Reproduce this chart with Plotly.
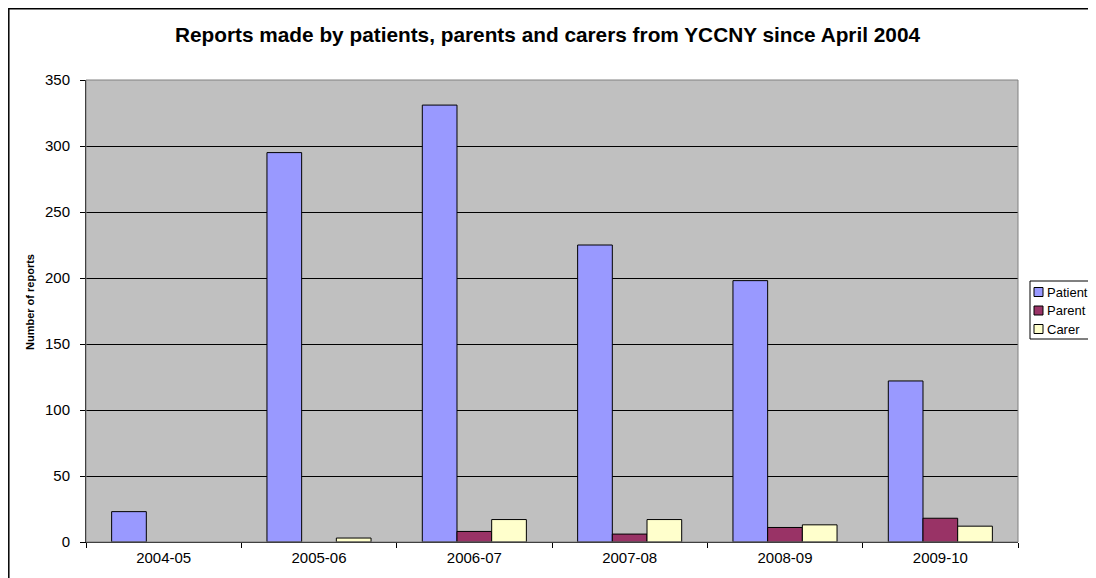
import plotly.graph_objects as go

# data
years = ["2004-05", "2005-06", "2006-07", "2007-08", "2008-09", "2009-10"]
series = ["Patient", "Parent", "Carer"]
patient = [23, 295, 331, 225, 198, 122]
parent = [0, 0, 8, 6, 11, 18]
carer = [0, 3, 17, 17, 13, 12]
colors = ["#9999FF", "#993366", "#FFFFCC"]

# page body has an 8px margin, so the figure sits 8px in from the window corner
W, H = 1088, 570
L, R, T, B = 78, 78, 72, 36
pw, ph = W - L - R, H - T - B


def px(x):
    return (x - L) / pw


def py(y):
    return 1 - (y - T) / ph


fig = go.Figure()
for name, vals, col in zip(series, [patient, parent, carer], colors):
    # no outline on empty bars, as in the original
    fig.add_trace(go.Bar(x=years, y=vals, name=name, marker_color=col,
                         marker_line=dict(color="black", width=[1 if v else 0 for v in vals])))

fig.update_layout(
    width=W, height=H,
    margin=dict(l=L, r=R, t=T, b=B, autoexpand=False),
    paper_bgcolor="white", plot_bgcolor="#C0C0C0",
    font=dict(family="Liberation Sans, Arial", size=15, color="black"),
    barmode="group", bargap=0.33, bargroupgap=0,
    title=dict(text="<b>Reports made by patients, parents and carers from YCCNY since April 2004</b>",
               x=px(539.5), xref="paper", xanchor="center", y=1 - 27 / H, yanchor="middle",
               font=dict(size=20.8, color="black")),
    showlegend=False,
)
fig.update_yaxes(range=[0, 350], dtick=50, showgrid=True, gridcolor="black", gridwidth=1,
                 showline=True, linecolor="black", ticks="outside", ticklen=5,
                 tickcolor="black", zeroline=False, ticklabelstandoff=7)
fig.update_xaxes(type="category", showline=True, linecolor="black", ticks="outside", ticklen=5,
                 tickcolor="black", tickson="boundaries", showgrid=False, ticklabelstandoff=2)

# y axis title
fig.add_annotation(text="<b>Number of reports</b>", textangle=-90, showarrow=False,
                   xref="paper", yref="paper", x=px(22), y=py(294),
                   xanchor="center", yanchor="middle", font=dict(size=11))

# plot-area border (grey top/right) and outer chart frame
fig.add_shape(type="rect", xref="paper", yref="paper", x0=0, x1=1, y0=0, y1=1,
              line=dict(color="#808080", width=1), layer="above")
fig.add_shape(type="rect", xref="paper", yref="paper",
              x0=px(0.8), x1=px(W + 10), y0=py(H + 10), y1=py(0.8),
              line=dict(color="black", width=1.5))

# legend box drawn by hand so it stays as compact as the original
fig.add_shape(type="rect", xref="paper", yref="paper",
              x0=px(1022), x1=px(W + 10), y0=py(331), y1=py(273),
              line=dict(color="black", width=1), fillcolor="white")
for i, (name, col) in enumerate(zip(series, colors)):
    yc = 284 + i * 18.5
    fig.add_shape(type="rect", xref="paper", yref="paper",
                  x0=px(1026), x1=px(1035), y0=py(yc + 4.5), y1=py(yc - 4.5),
                  line=dict(color="black", width=1), fillcolor=col)
    fig.add_annotation(text=name, showarrow=False, xref="paper", yref="paper",
                       x=px(1037), y=py(yc), xanchor="left", yanchor="middle",
                       font=dict(size=13))

fig.write_html("out.html")
